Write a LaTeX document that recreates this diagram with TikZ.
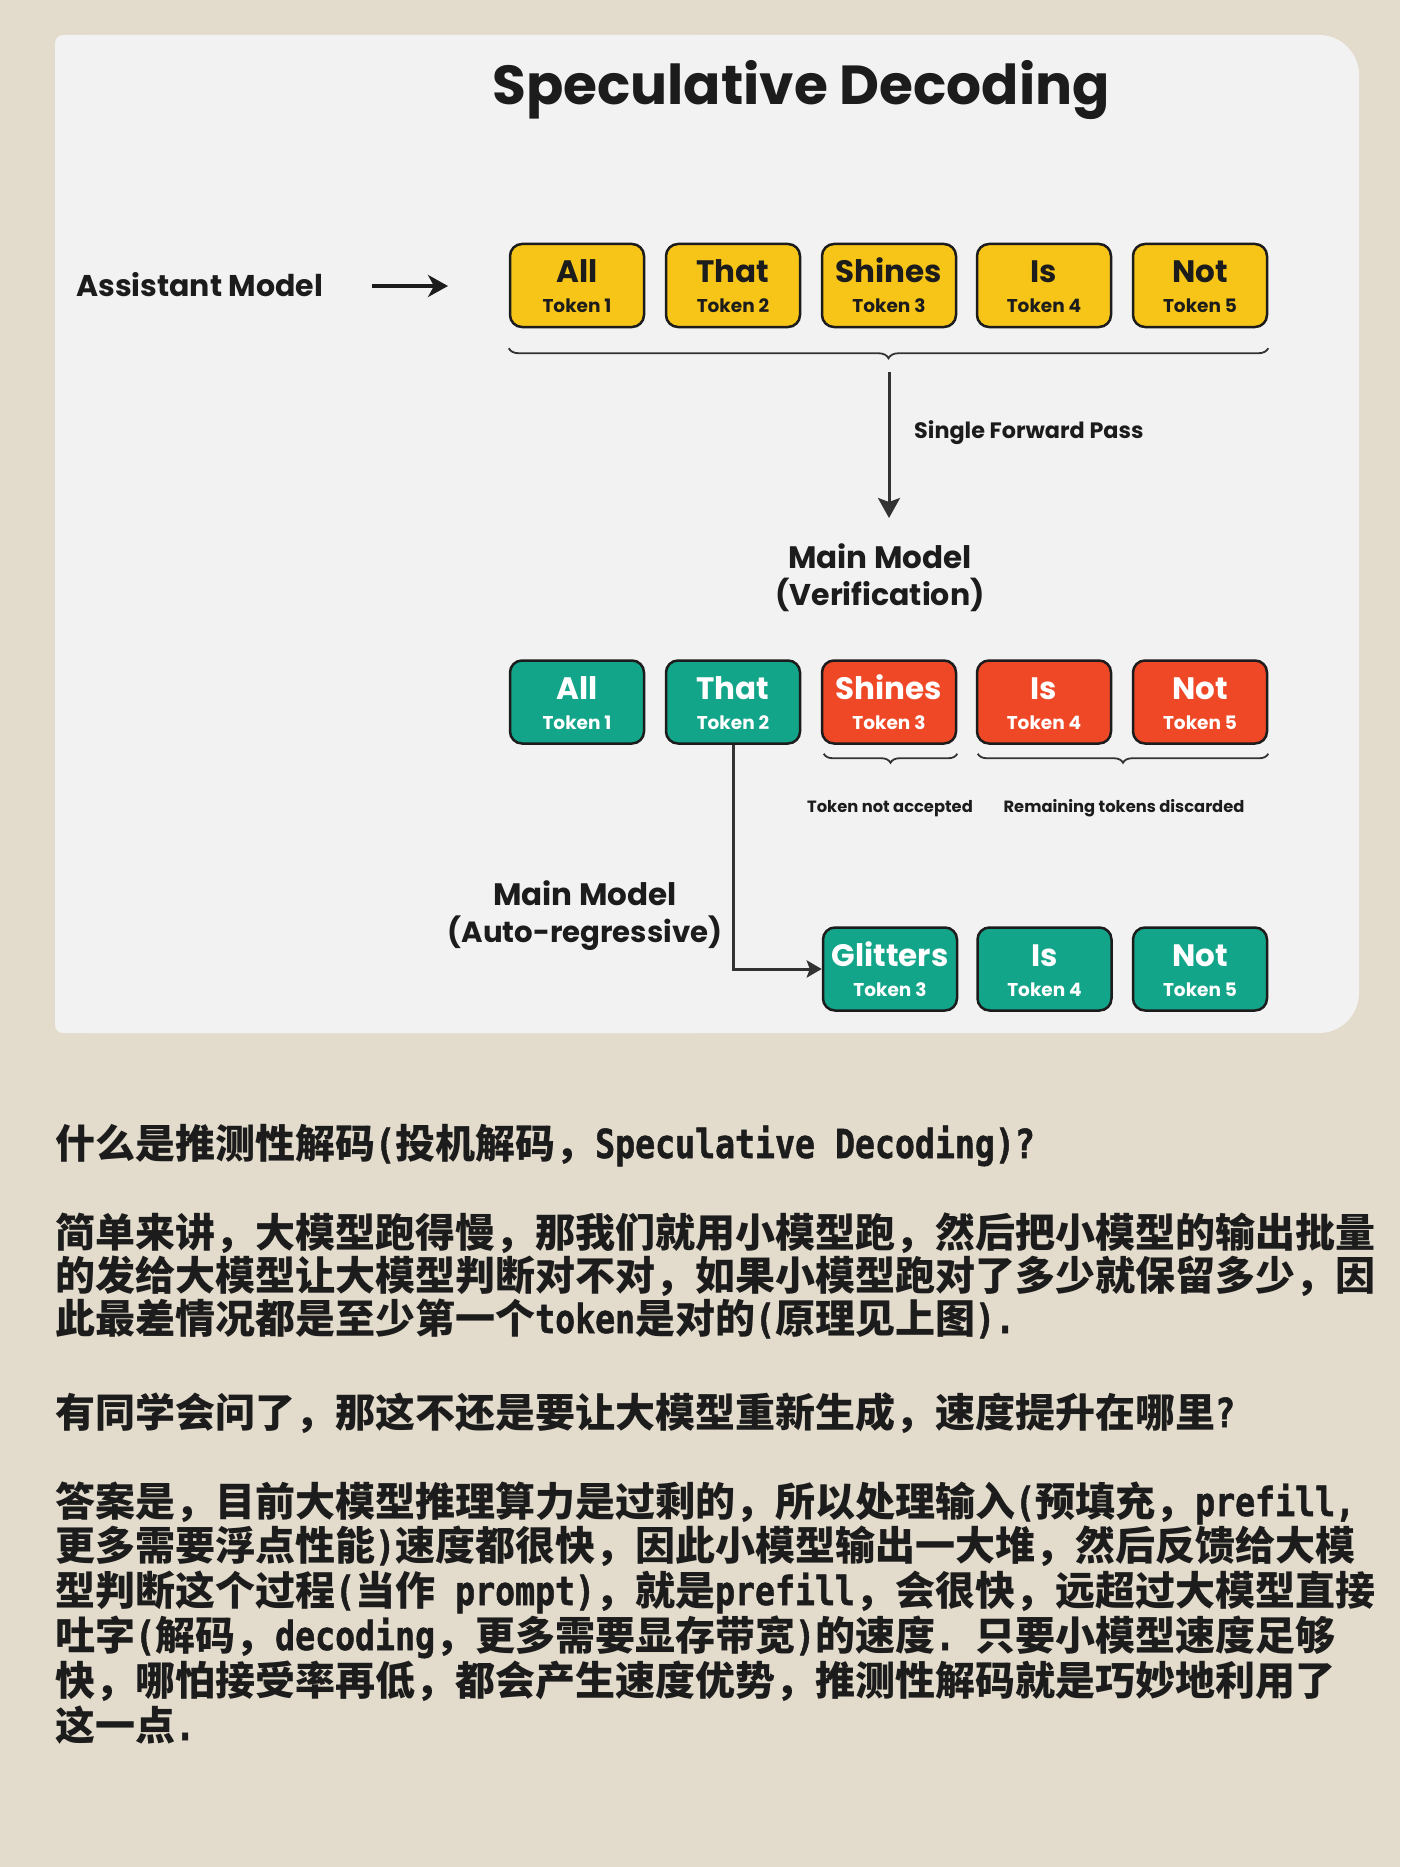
\documentclass[tikz,border=0pt]{standalone}
\usepackage{fontspec}
\setmainfont{Poppins}
\newfontfamily\pop{Poppins}
\newfontfamily\cjk{Noto Sans CJK SC}
\newfontfamily\mono{DejaVu Sans Mono Bold}[FakeStretch=0.83, FakeBold=1.2]
\usetikzlibrary{arrows.meta,decorations.pathreplacing}
\definecolor{bg}{HTML}{E3DCCC}
\definecolor{panel}{HTML}{F2F2F2}
\definecolor{ink}{HTML}{1C1C1C}
\definecolor{tyellow}{HTML}{F7C518}
\definecolor{tgreen}{HTML}{13A589}
\definecolor{tred}{HTML}{EF4827}
\newcommand\mt[1]{{\mono #1}}
\newcommand\TokNode[6]{%
  \node[tokbox, fill=#3] (#1) at (#2) {};
  \node[wordtxt, text=#4] (#1w) at ([yshift=-40pt]#1.north) {#5};
  \node[toktxt, text=#4] (#1t) at ([yshift=-70pt]#1.north) {#6};
}
\tikzset{
  tokbox/.style={draw=ink, line width=2.5pt, rounded corners=12pt,
    minimum width=134pt, minimum height=83pt, inner sep=0pt},
  wordtxt/.style={anchor=base, inner sep=0pt, font=\pop\bfseries\fontsize{31}{31}\selectfont},
  toktxt/.style={anchor=base, inner sep=0pt, font=\pop\bfseries\fontsize{18.5}{18.5}\selectfont},
  lbl/.style={anchor=base, inner sep=0pt, text=ink},
  bigl/.style={lbl, font=\pop\bfseries\fontsize{31}{31}\selectfont},
  smalll/.style={lbl, font=\pop\bfseries\fontsize{16.3}{16.3}\selectfont},
  para/.style={anchor=base west, inner sep=0pt, text=ink,
    font=\cjk\bfseries\fontsize{40}{44}\selectfont},
  bracestyle/.style={draw=ink!90, line width=1.8pt,
    decorate, decoration={brace, mirror, amplitude=#1}},
  arr/.style={draw=ink!90, line width=3pt,
    -{Stealth[length=20pt, width=22pt, inset=4pt]}},
}
\begin{document}
\begin{tikzpicture}[x=1pt, y=-1pt]
\useasboundingbox (0,0) rectangle (1400,1867);
\fill[bg] (0,0) rectangle (1400,1867);
\fill[panel, rounded corners=40pt] (55,35) rectangle (1359,1033);
\fill[panel, rounded corners=8pt] (55,35) rectangle (700,1033);

% title
\node[lbl, font=\pop\bfseries\fontsize{55}{55}\selectfont] (title) at (801,105) {Speculative Decoding};

% assistant model
\node[bigl, anchor=base west, font=\pop\bfseries\fontsize{30}{30}\selectfont] (am) at (76,297) {Assistant Model};
\coordinate (amA) at (372,286);
\coordinate (amB) at (448,286);
\draw[draw=ink, line width=4.5pt, -{Stealth[length=20pt, width=22pt, inset=6pt]}] (amA) -- (amB);

% row 1
\TokNode{a1}{577,285.5}{tyellow}{ink}{All}{Token 1}
\TokNode{a2}{733,285.5}{tyellow}{ink}{That}{Token 2}
\TokNode{a3}{889,285.5}{tyellow}{ink}{Shines}{Token 3}
\TokNode{a4}{1044,285.5}{tyellow}{ink}{Is}{Token 4}
\TokNode{a5}{1200,285.5}{tyellow}{ink}{Not}{Token 5}

\draw[bracestyle=10pt] ([yshift=-20pt]a1.south west) -- ([yshift=-20pt]a5.south east);
\coordinate (dA) at ([yshift=-44pt]a3.south);
\coordinate (dB) at (889,518);
\draw[arr] (dA) -- (dB);
\node[lbl, anchor=base west, font=\pop\bfseries\fontsize{22.3}{22.3}\selectfont] (sfp) at (914,438) {Single Forward Pass};

\node[bigl] (mmv1) at (880,568) {Main Model};
\node[bigl, font=\pop\bfseries\fontsize{30}{30}\selectfont] (mmv2) at (880,605) {(Verification)};

% row 2
\TokNode{b1}{577,702}{tgreen}{white}{All}{Token 1}
\TokNode{b2}{733,702}{tgreen}{white}{That}{Token 2}
\TokNode{b3}{889,702}{tred}{white}{Shines}{Token 3}
\TokNode{b4}{1044,702}{tred}{white}{Is}{Token 4}
\TokNode{b5}{1200,702}{tred}{white}{Not}{Token 5}

\draw[bracestyle=9pt] ([xshift=3pt,yshift=-9pt]b3.south west) -- ([yshift=-9pt]b3.south east);
\draw[bracestyle=9pt] ([xshift=2pt,yshift=-9pt]b4.south west) -- ([yshift=-9pt]b5.south east);
\node[smalll] (tna) at (890,812) {Token not accepted};
\node[smalll] (rtd) at (1124,812) {Remaining tokens discarded};

% row 3
\TokNode{c1}{890,969}{tgreen}{white}{Glitters}{Token 3}
\TokNode{c2}{1044.5,969}{tgreen}{white}{Is}{Token 4}
\TokNode{c3}{1200,969}{tgreen}{white}{Not}{Token 5}

\draw[draw=ink!90, line width=3pt, -{Stealth[length=15pt, width=17pt, inset=3pt]}] (b2.south) |- (c1.west);

\node[bigl] (mma1) at (585,905) {Main Model};
\node[bigl, font=\pop\bfseries\fontsize{29.2}{29.2}\selectfont] (mma2) at (585,942) {(Auto-regressive)};

% text
\node[para] (p1) at (55,1158) {什么是推测性解码\mt{(}投机解码，\mt{Speculative Decoding)?}};

\node[para] (p21) at (55,1247) {简单来讲，大模型跑得慢，那我们就用小模型跑，然后把小模型的输出批量};
\node[para] (p22) at (55,1290) {的发给大模型让大模型判断对不对，如果小模型跑对了多少就保留多少，因};
\node[para] (p23) at (55,1333) {此最差情况都是至少第一个\mt{token}是对的\mt{(}原理见上图\mt{).}};

\node[para] (p3) at (55,1427) {有同学会问了，那这不还是要让大模型重新生成，速度提升在哪里\mt{?}};

\node[para] (p41) at (55,1516) {答案是，目前大模型推理算力是过剩的，所以处理输入\mt{(}预填充，\mt{prefill,}};
\node[para] (p42) at (55,1560) {更多需要浮点性能\mt{)}速度都很快，因此小模型输出一大堆，然后反馈给大模};
\node[para] (p43) at (55,1605) {型判断这个过程\mt{(}当作\mt{\ prompt)}，就是\mt{prefill}，会很快，远超过大模型直接};
\node[para] (p44) at (55,1650) {吐字\mt{(}解码，\mt{decoding}，更多需要显存带宽\mt{)}的速度\mt{.\ }只要小模型速度足够};
\node[para] (p45) at (55,1695) {快，哪怕接受率再低，都会产生速度优势，推测性解码就是巧妙地利用了};
\node[para] (p46) at (55,1740) {这一点\mt{.}};
\end{tikzpicture}
\end{document}
